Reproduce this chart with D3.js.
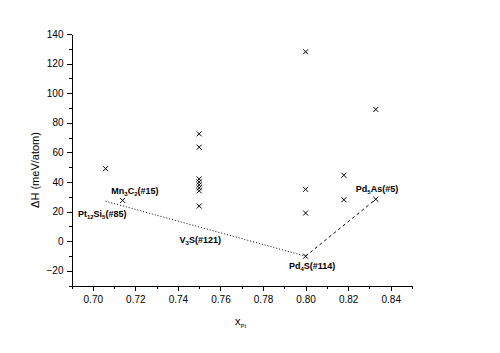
<!DOCTYPE html>
<html>
<head>
<meta charset="utf-8">
<script src="https://d3js.org/d3.v7.min.js"></script>
<style>
  body { margin: 0; background: #fff; }
  text { font-family: "Liberation Sans", Arial, sans-serif; }
</style>
</head>
<body>
<div id="chart"></div>
<script>
// structures: x_Pt and formation enthalpy (meV/atom)
var ptX = [0.706, 0.714, 0.75, 0.75, 0.75, 0.75, 0.75, 0.75, 0.75, 0.75, 0.80, 0.80, 0.80, 0.80, 0.818, 0.818, 0.833, 0.833];
var dH  = [49, 27.5, 72.5, 63.5, 42, 40, 38, 36, 34, 23.7, 128, 35, 19, -10.2, 44.5, 28, 89, 28.3];

// convex hull pieces
var hullDotted = [[0.706, 27], [0.80, -10.2]];
var hullDashed = [[0.80, -10.2], [0.833, 28.3]];

// labels: [base, sub, rest, sub2, tail, x, y]
var labelNames = [
  ["Pt", "12", "Si", "5", "(#85)"],
  ["Mn", "3", "C", "2", "(#15)"],
  ["V", "3", "S(#121)", "", ""],
  ["Pd", "4", "S(#114)", "", ""],
  ["Pd", "5", "As(#5)", "", ""]
];
var labelX = [0.6930, 0.7087, 0.7408, 0.7922, 0.8236];
var labelY = [16.6, 31.9, -1, -18.6, 33.2];

var xTicks = [0.70, 0.72, 0.74, 0.76, 0.78, 0.80, 0.82, 0.84];
var yTicks = [-20, 0, 20, 40, 60, 80, 100, 120, 140];

var width = 500, height = 353;
var svg = d3.select("#chart").append("svg")
  .attr("width", width).attr("height", height);

var x = d3.scaleLinear().domain([0.69, 0.85]).range([71.5, 412]);
var y = d3.scaleLinear().domain([-30, 140]).range([285.5, 34]);

// minor ticks
var xMinor = d3.range(0.69, 0.8501, 0.01);
var yMinor = d3.range(-30, 141, 10);

svg.append("g")
  .attr("transform", "translate(0," + y(-30) + ")")
  .call(d3.axisBottom(x).tickValues(xMinor).tickSize(3).tickSizeOuter(0).tickFormat(""))
  .attr("shape-rendering", "crispEdges");
var gx = svg.append("g")
  .attr("transform", "translate(0," + y(-30) + ")")
  .call(d3.axisBottom(x).tickValues(xTicks).tickSize(5).tickSizeOuter(0).tickFormat(d3.format(".2f")))
  .attr("shape-rendering", "crispEdges");
gx.selectAll("text").attr("font-size", 10).attr("dy", "0.9em").attr("fill", "#000");

svg.append("g")
  .attr("transform", "translate(" + x(0.69) + ",0)")
  .call(d3.axisLeft(y).tickValues(yMinor).tickSize(3).tickSizeOuter(0).tickFormat(""))
  .attr("shape-rendering", "crispEdges");
var gy = svg.append("g")
  .attr("transform", "translate(" + x(0.69) + ",0)")
  .call(d3.axisLeft(y).tickValues(yTicks).tickSize(5).tickSizeOuter(0))
  .attr("shape-rendering", "crispEdges");
gy.selectAll("text").attr("font-size", 10).attr("fill", "#000");

svg.selectAll(".domain, .tick line").attr("stroke", "#000");

// axis titles
svg.append("text")
  .attr("transform", "translate(39,170) rotate(-90)")
  .attr("text-anchor", "middle")
  .attr("font-size", 11)
  .text("\u0394H (meV/atom)");

var xt = svg.append("text")
  .attr("x", 235).attr("y", 325)
  .attr("font-size", 11)
  .text("x");
xt.append("tspan").attr("font-size", 6).attr("dy", 3).text("Pt");

// hull lines
var line = d3.line().x(function(d) { return x(d[0]); }).y(function(d) { return y(d[1]); });
svg.append("path").datum(hullDotted)
  .attr("d", line).attr("fill", "none").attr("stroke", "#000")
  .attr("stroke-width", 1).attr("stroke-dasharray", "1,2");
svg.append("path").datum(hullDashed)
  .attr("d", line).attr("fill", "none").attr("stroke", "#000")
  .attr("stroke-width", 1).attr("stroke-dasharray", "3,3");

// markers
var pts = ptX.map(function(v, i) { return [v, dH[i]]; });
var cross = d3.symbol().type(d3.symbolX).size(18);
svg.selectAll(".pt").data(pts).enter().append("path")
  .attr("class", "pt")
  .attr("transform", function(d) { return "translate(" + x(d[0]) + "," + y(d[1]) + ")"; })
  .attr("d", cross)
  .attr("fill", "none").attr("stroke", "#000").attr("stroke-width", 1);

// labels
labelNames.forEach(function(n, i) {
  var t = svg.append("text")
    .attr("x", x(labelX[i])).attr("y", y(labelY[i]))
    .attr("font-size", 9).attr("font-weight", "bold");
  t.append("tspan").text(n[0]);
  t.append("tspan").attr("font-size", 6).attr("dy", 2).text(n[1]);
  t.append("tspan").attr("dy", -2).text(n[2]);
  if (n[3]) {
    t.append("tspan").attr("font-size", 6).attr("dy", 2).text(n[3]);
    t.append("tspan").attr("dy", -2).text(n[4]);
  }
});
</script>
</body>
</html>
